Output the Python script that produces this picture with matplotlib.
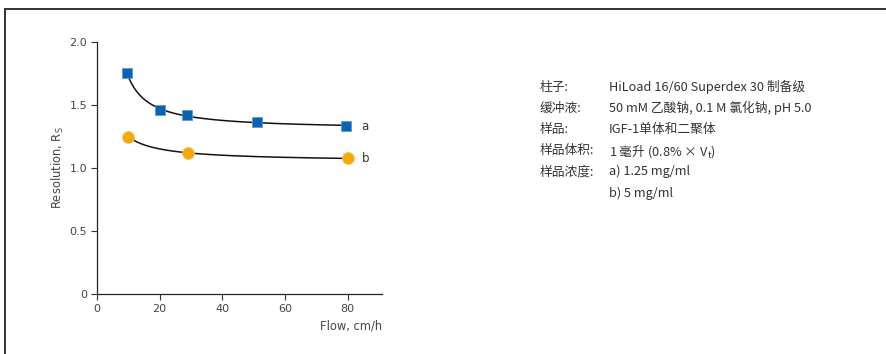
import numpy as np
import matplotlib
matplotlib.use('Agg')
import matplotlib.pyplot as plt
from matplotlib.lines import Line2D

plt.rcParams['font.family'] = ['Noto Sans CJK SC', 'DejaVu Sans']

# Resolution vs. flow for two sample concentrations
flow_a = [9.5, 20, 28.6, 51, 79.6]
res_a = [1.756, 1.464, 1.42, 1.368, 1.33]
flow_b = [9.9, 29.2, 80]
res_b = [1.25, 1.12, 1.076]

x_ticks = [0, 20, 40, 60, 80]
y_ticks = [0, 0.5, 1.0, 1.5, 2.0]
y_ticklabels = ['0', '0.5', '1.0', '1.5', '2.0']

info_keys = ['柱子:', '缓冲液:', '样品:', '样品体积:', '样品浓度:', '']
info_vals = ['HiLoad 16/60 Superdex 30 制备级',
             '50 mM 乙酸钠, 0.1 M 氯化钠, pH 5.0',
             'IGF-1单体和二聚体',
             '1 毫升 (0.8% × V$_\\mathregular{t}$)',
             'a) 1.25 mg/ml',
             'b) 5 mg/ml']

W, H = 887, 354
fig = plt.figure(figsize=(W / 100, H / 100), dpi=100)

# outer frame: top and left rules only
fig.add_artist(Line2D([5 / W, 1], [1 - 9 / H, 1 - 9 / H], color='#333333', lw=1.4))
fig.add_artist(Line2D([5 / W, 5 / W], [0, 1 - 9 / H], color='#333333', lw=1.4))

ax = fig.add_axes([97 / W, 60 / H, 285 / W, 252 / H])


def fit_curve(x, y, deg):
    # smooth trend in 1/x
    x = np.asarray(x, float)
    coef = np.polyfit(1 / x, y, deg)
    xs = np.linspace(x.min(), x.max(), 200)
    return xs, np.polyval(coef, 1 / xs)


xs, ys = fit_curve(flow_a, res_a, 2)
ax.plot(xs, ys, color='#111111', lw=1.1, zorder=2)
xs, ys = fit_curve(flow_b, res_b, 2)
ax.plot(xs, ys, color='#111111', lw=1.1, zorder=2)

ax.plot(flow_a, res_a, 's', color='#0a62b3', markersize=7.5,
        markeredgecolor='#5b9bd5', markeredgewidth=0.6, zorder=3)
ax.plot(flow_b, res_b, 'o', color='#f5a800', markersize=8.5,
        markeredgecolor='#f7c05a', markeredgewidth=0.6, zorder=3)

ax.text(84.5, res_a[-1], 'a', fontsize=8.5, color='#333333', va='center', ha='left',
        family='DejaVu Sans')
ax.text(84.5, res_b[-1], 'b', fontsize=8.5, color='#333333', va='center', ha='left',
        family='DejaVu Sans')

ax.set_xlim(0, 91)
ax.set_ylim(0, 2.0)
ax.set_xticks(x_ticks)
ax.set_yticks(y_ticks)
ax.set_yticklabels(y_ticklabels)
ax.tick_params(direction='out', length=4, width=0.8, colors='#333333',
               labelsize=8, labelcolor='#444444', pad=3)
for lab in ax.get_xticklabels() + ax.get_yticklabels():
    lab.set_family('DejaVu Sans')
for s in ['top', 'right']:
    ax.spines[s].set_visible(False)
for s in ['left', 'bottom']:
    ax.spines[s].set_linewidth(0.9)
    ax.spines[s].set_color('#222222')

ax.set_xlabel('Flow, cm/h', fontsize=8.3, color='#444444', family='DejaVu Sans')
ax.xaxis.set_label_coords(1.0, -0.10)
ax.xaxis.label.set_horizontalalignment('right')
ax.set_ylabel('Resolution, R$_\\mathregular{S}$', fontsize=8.3, color='#444444',
              family='DejaVu Sans')
ax.yaxis.set_label_coords(-0.11, 0.5)

# conditions panel
y0, dy = 1 - 87 / H, 21.2 / H
for i, (k, v) in enumerate(zip(info_keys, info_vals)):
    y = y0 - i * dy
    fig.text(540 / W, y, k, fontsize=9.2, color='#333333', va='center', ha='left')
    fig.text(609 / W, y, v, fontsize=9.2, color='#333333', va='center', ha='left')

fig.savefig('out.png', dpi=100)
